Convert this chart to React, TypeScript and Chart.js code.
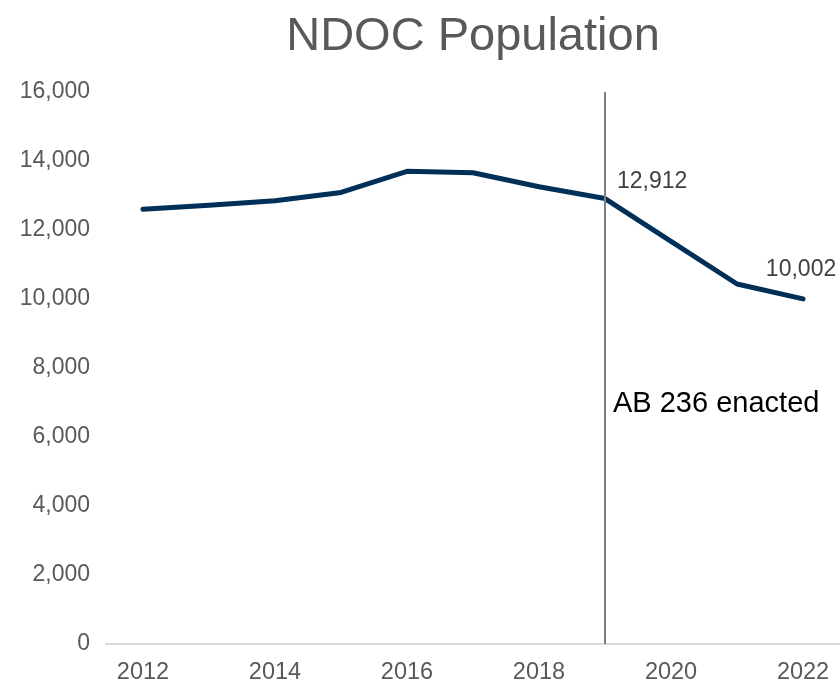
import React, { useEffect, useRef } from "react";
import { Chart, registerables } from "chart.js";

Chart.register(...registerables);

const years = [2012, 2013, 2014, 2015, 2016, 2017, 2018, 2019, 2020, 2021, 2022];
const population = [12600, 12720, 12850, 13090, 13700, 13660, 13255, 12912, 11670, 10435, 10002];
const xTickYears = [2012, 2014, 2016, 2018, 2020, 2022];
const yTicks = [0, 2000, 4000, 6000, 8000, 10000, 12000, 14000, 16000];
const titleText = "NDOC Population";
const eventYear = 2019;
const eventText = "AB 236 enacted";
const eventTextValue = 7000;
const labelledYears = [2019, 2022];

const FONT = "Arial, 'Liberation Sans', sans-serif";

const fmt = (v: number) => v.toLocaleString("en-US");

const annotationPlugin = {
  id: "ndocAnnotations",
  afterDatasetsDraw(chart: any) {
    const { ctx, chartArea, scales } = chart;
    const xs = scales.x;
    const ys = scales.y;
    ctx.save();
    const ex = Math.round(xs.getPixelForValue(eventYear));
    ctx.strokeStyle = "#808080";
    ctx.lineWidth = 2;
    ctx.beginPath();
    ctx.moveTo(ex, chartArea.top);
    ctx.lineTo(ex, chartArea.bottom);
    ctx.stroke();

    ctx.fillStyle = "#000000";
    ctx.font = `29px ${FONT}`;
    ctx.textAlign = "left";
    ctx.textBaseline = "alphabetic";
    ctx.fillText(eventText, ex + 8, ys.getPixelForValue(eventTextValue) + 9.5);

    ctx.fillStyle = "#404040";
    ctx.font = `23px ${FONT}`;
    labelledYears.forEach((yr, k) => {
      const i = years.indexOf(yr);
      const px = xs.getPixelForValue(yr);
      const py = ys.getPixelForValue(population[i]);
      if (k === 0) {
        ctx.textAlign = "left";
        ctx.fillText(fmt(population[i]), px + 12, py - 11);
      } else {
        ctx.textAlign = "center";
        ctx.fillText(fmt(population[i]), px - 2, py - 23);
      }
    });

    ctx.fillStyle = "#595959";
    ctx.font = `47px ${FONT}`;
    ctx.textAlign = "center";
    ctx.fillText(titleText, (chartArea.left + chartArea.right) / 2, 50);
    ctx.restore();
  },
};

const clearPadding = (scale: any) => {
  scale.paddingLeft = 0;
  scale.paddingRight = 0;
  scale.paddingTop = 0;
  scale.paddingBottom = 0;
};

export default function App() {
  const canvasRef = useRef<HTMLCanvasElement | null>(null);

  useEffect(() => {
    if (!canvasRef.current) return;
    const chart = new Chart(canvasRef.current, {
      type: "line",
      data: {
        datasets: [
          {
            label: "NDOC Population",
            data: years.map((yr, i) => ({ x: yr, y: population[i] })),
            borderColor: "#003057",
            backgroundColor: "#003057",
            borderWidth: 5,
            pointRadius: 0,
            tension: 0,
            borderCapStyle: "round",
            borderJoinStyle: "round",
          },
        ],
      },
      options: {
        responsive: false,
        animation: false,
        layout: { padding: { top: 92, left: 0, right: 0, bottom: 0 } },
        plugins: {
          legend: { display: false },
          title: { display: false },
          tooltip: { enabled: false },
        },
        scales: {
          x: {
            type: "linear",
            min: 2011.44,
            max: 2022.56,
            afterBuildTicks: (scale: any) => {
              scale.ticks = xTickYears.map((v) => ({ value: v }));
            },
            afterFit: (scale: any) => {
              scale.height = 39;
              clearPadding(scale);
            },
            grid: { display: false, drawTicks: false },
            border: { display: true, color: "#d9d9d9", width: 2 },
            ticks: {
              color: "#595959",
              font: { family: FONT, size: 23.5 },
              padding: 14,
              maxRotation: 0,
              autoSkip: false,
              callback: (v: any) => String(v),
            },
          },
          y: {
            min: 0,
            max: 16000,
            afterBuildTicks: (scale: any) => {
              scale.ticks = yTicks.map((v) => ({ value: v }));
            },
            afterFit: (scale: any) => {
              scale.width = 106;
              clearPadding(scale);
            },
            grid: { display: false, drawTicks: false },
            border: { display: false },
            ticks: {
              color: "#595959",
              font: { family: FONT, size: 23 },
              padding: 16,
              callback: (v: any) => fmt(Number(v)),
            },
          },
        },
      },
      plugins: [annotationPlugin],
    });
    return () => chart.destroy();
  }, []);

  return (
    <div style={{ position: "absolute", left: 0, top: 0, width: 840, height: 683, background: "#ffffff" }}>
      <canvas ref={canvasRef} width={840} height={683} style={{ display: "block" }} />
    </div>
  );
}
